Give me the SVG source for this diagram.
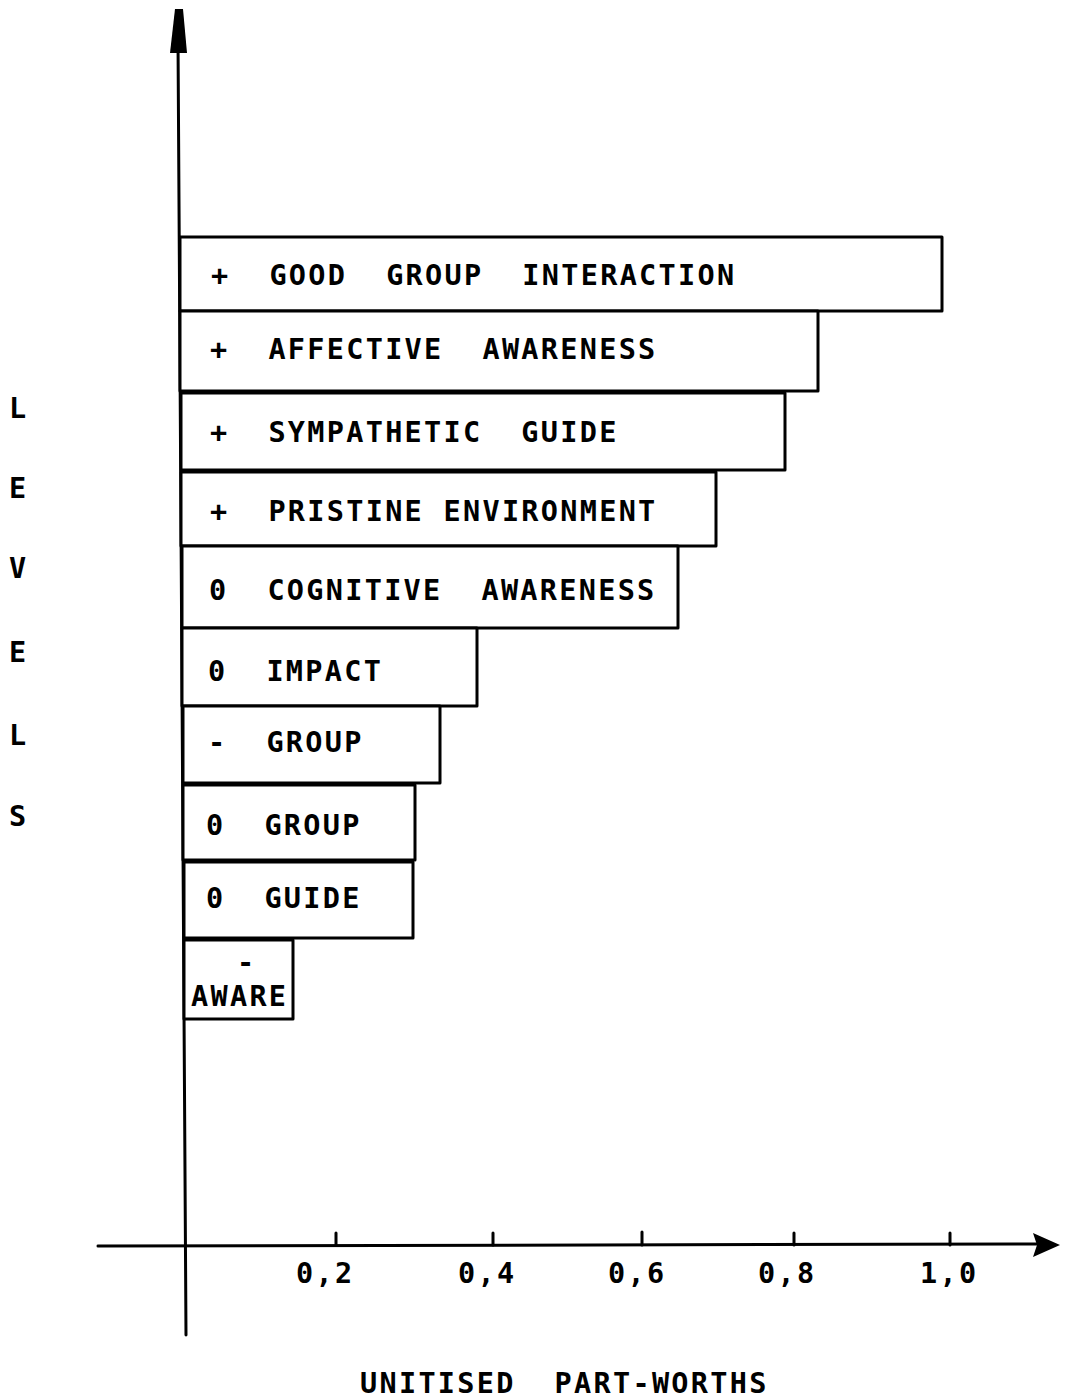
<svg xmlns="http://www.w3.org/2000/svg" width="1068" height="1400" viewBox="0 0 1068 1400">
<style>
.bar{fill:#fff;stroke:#000;stroke-width:3;stroke-linejoin:round}
.ax{stroke:#000;stroke-width:3;fill:none;stroke-linecap:round}
.t{font-family:"DejaVu Sans Mono","Liberation Mono",monospace;font-weight:bold;font-size:28.5px;letter-spacing:2.3px;fill:#000}
</style>
<rect width="1068" height="1400" fill="#fff"/>
<g id="axes">
<line class="ax" x1="178" y1="40" x2="186" y2="1335"/>
<polygon points="175,9 183,9 187,53 170,53" fill="#000"/>
<line class="ax" x1="98" y1="1246" x2="1040" y2="1244"/>
<polygon points="1060,1245 1033,1233 1037,1245 1033,1257" fill="#000"/>
<g class="ax">
<line x1="336" y1="1233" x2="336" y2="1245"/>
<line x1="493" y1="1233" x2="493" y2="1245"/>
<line x1="642" y1="1232" x2="642" y2="1245"/>
<line x1="794" y1="1233" x2="794" y2="1245"/>
<line x1="950" y1="1233" x2="950" y2="1245"/>
</g>
<text class="t" x="296" y="1283">0,2</text>
<text class="t" x="458" y="1283">0,4</text>
<text class="t" x="608" y="1283">0,6</text>
<text class="t" x="758" y="1283">0,8</text>
<text class="t" x="920" y="1283">1,0</text>
<text class="t" x="360" y="1393" xml:space="preserve">UNITISED  PART-WORTHS</text>
<text class="t" x="9" y="418">L</text>
<text class="t" x="9" y="498">E</text>
<text class="t" x="9" y="578">V</text>
<text class="t" x="9" y="662">E</text>
<text class="t" x="9" y="745">L</text>
<text class="t" x="9" y="826">S</text>
</g>
<g id="bar1"><rect class="bar" x="180" y="237" width="762" height="74"/><text class="t" x="211" y="285" xml:space="preserve">+  GOOD  GROUP  INTERACTION</text></g>
<g id="bar2"><rect class="bar" x="180" y="311" width="638" height="80"/><text class="t" x="210" y="359" xml:space="preserve">+  AFFECTIVE  AWARENESS</text></g>
<g id="bar3"><rect class="bar" x="181" y="393" width="604" height="77"/><text class="t" x="210" y="442" xml:space="preserve">+  SYMPATHETIC  GUIDE</text></g>
<g id="bar4"><rect class="bar" x="181" y="472" width="535" height="74"/><text class="t" x="210" y="521" xml:space="preserve">+  PRISTINE ENVIRONMENT</text></g>
<g id="bar5"><rect class="bar" x="182" y="546" width="496" height="82"/><text class="t" x="209" y="600" xml:space="preserve">0  COGNITIVE  AWARENESS</text></g>
<g id="bar6"><rect class="bar" x="182" y="628" width="295" height="78"/><text class="t" x="208" y="681" xml:space="preserve">0  IMPACT</text></g>
<g id="bar7"><rect class="bar" x="183" y="706" width="257" height="77"/><text class="t" x="208" y="752" xml:space="preserve">-  GROUP</text></g>
<g id="bar8"><rect class="bar" x="183" y="785" width="232" height="75"/><text class="t" x="206" y="835" xml:space="preserve">0  GROUP</text></g>
<g id="bar9"><rect class="bar" x="184" y="862" width="229" height="76"/><text class="t" x="206" y="908" xml:space="preserve">0  GUIDE</text></g>
<g id="bar10"><rect class="bar" x="184" y="940" width="109" height="79"/><text class="t" x="237" y="972">-</text><text class="t" x="191" y="1006">AWARE</text></g>
</svg>
